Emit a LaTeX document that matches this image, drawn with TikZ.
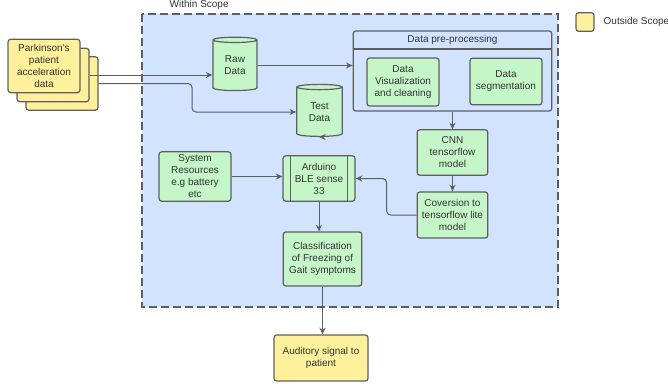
\documentclass[tikz,border=0pt]{standalone}
\usepackage{fontspec}
\setmainfont{Liberation Sans}
\usepackage{tikz}
\usetikzlibrary{calc,arrows.meta,shapes.geometric}
\definecolor{scopeblue}{RGB}{209,227,255}
\definecolor{boxgreen}{RGB}{197,246,200}
\definecolor{boxyellow}{RGB}{255,241,155}
\definecolor{linegray}{RGB}{95,95,95}
\definecolor{txtgray}{RGB}{51,51,51}
\tikzset{
  lbl/.style={font=\fontsize{7.5}{9}\selectfont, text=txtgray},
  gbox/.style={lbl, draw=linegray, line width=0.9pt, fill=boxgreen, rounded corners=2pt, align=center, inner sep=1pt},
  ybox/.style={gbox, fill=boxyellow},
  dbase/.style={lbl, draw=linegray, line width=0.9pt, fill=boxgreen, cylinder, shape border rotate=90, aspect=0.25, align=center, inner sep=0pt},
  conn/.style={draw=linegray, line width=0.75pt, -{Stealth[length=5pt,width=4.5pt]}, rounded corners=3pt}
}
\begin{document}
\begin{tikzpicture}[x=0.75pt, y=-0.75pt]
			%%%%% START %%%%%
			\useasboundingbox (0,0) rectangle (668,383);
			
			% scope area
			\draw[fill=scopeblue, draw=linegray, line width=1pt, dash pattern=on 6pt off 3pt] (142,14) rectangle (558,307);
			\node[lbl, anchor=west] (within) at (165,5) {Within Scope};
			
			% legend
			\node[ybox, minimum width=13.5pt, minimum height=14pt] (legend) at (585,22) {};
			\node[lbl, anchor=west] (outside) at (599,22) {Outside Scope};
			
			% input data stack
			\node[ybox, minimum width=54pt, minimum height=40pt] (pk3) at (62,83.5) {};
			\node[ybox, minimum width=54pt, minimum height=40pt] (pk2) at (53,75) {};
			\node[ybox, minimum width=54pt, minimum height=40pt] (pk1) at (44,66) {Parkinson's\\patient\\acceleration\\data};
			
			% data stores
			\node[dbase, minimum width=33pt, minimum height=40pt] (raw) at (235,65.5) {Raw\\Data};
			\node[dbase, minimum width=34pt, minimum height=39pt] (test) at (319.5,112) {Test\\Data};
			
			% pre-processing group
			\node[draw=linegray, line width=0.9pt, rounded corners=2pt, minimum width=149pt, minimum height=60pt] (prep) at (452.5,71) {};
			\draw[draw=linegray, line width=0.9pt] (353,49) -- (552,49);
			\node[lbl] (preptitle) at (452.5,40) {Data pre-processing};
			\node[gbox, minimum width=54pt, minimum height=36pt] (vis) at (403,82) {Data\\Visualization\\and cleaning};
			\node[gbox, minimum width=54pt, minimum height=35pt] (seg) at (506,81.5) {Data\\segmentation};
			
			% model
			\node[gbox, minimum width=53pt, minimum height=34pt] (cnn) at (452.5,152.5) {CNN\\tensorflow\\model};
			\node[gbox, minimum width=53pt, minimum height=34.5pt] (conv) at (452.5,215) {Coversion to\\tensorflow lite\\model};
			
			% device
			\node[gbox, minimum width=54pt, minimum height=34pt] (ard) at (319,178.5) {Arduino\\BLE sense\\33};
			\draw[draw=linegray, line width=0.9pt] ($(ard.north west)+(8,0)$) -- ($(ard.south west)+(8,0)$);
			\draw[draw=linegray, line width=0.9pt] ($(ard.north east)+(-8,0)$) -- ($(ard.south east)+(-8,0)$);
			\node[gbox, minimum width=54pt, minimum height=37pt] (sys) at (195,176.5) {System\\Resources\\e.g battery\\etc};
			
			% outputs
			\node[gbox, minimum width=59pt, minimum height=40.5pt] (cls) at (322.5,259) {Classification\\of Freezing of\\Gait symptoms};
			\node[ybox, minimum width=70.5pt, minimum height=34.5pt] (aud) at (321,358) {Auditory signal to\\patient};
			
			% connectors
			\draw[conn] (pk2.east) -- (raw.west |- pk2.east);
			\draw[conn] (pk3.east) -| (192,100) |- (test.west);
			\draw[conn] (raw.east) -- (raw.east -| prep.west);
			\draw[conn] (prep.south) -- (cnn.north);
			\draw[conn] (cnn.south) -- (conv.north);
			\draw[conn] (conv.west) -| ($(ard.east)+(31,0)$) -- (ard.east);
			\draw[conn] (sys.east) -- (sys.east -| ard.west);
			\draw[conn] (test.south) -- (test.south -| ard.north);
			\draw[conn] (ard.south) -- (ard.south |- cls.north);
			\draw[conn] (cls.south) -- (cls.south |- aud.north);
			%%%%% END %%%%%
\end{tikzpicture}
\end{document}
